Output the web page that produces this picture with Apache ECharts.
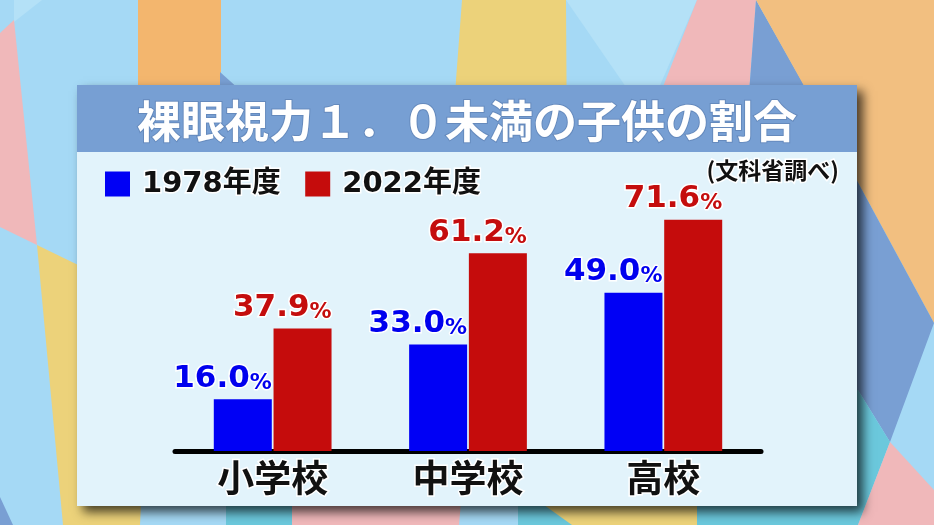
<!DOCTYPE html>
<html><head><meta charset="utf-8">
<script src="https://cdn.jsdelivr.net/npm/echarts@6/dist/echarts.min.js"></script>
<style>html,body{margin:0;padding:0;background:#a5d9f5}#c{width:934px;height:525px}</style>
</head><body><div id="c"></div>
<script>
const categories = ['小学校', '中学校', '高校'];
const seriesNames = ['1978年度', '2022年度'];
const values1978 = [16.0, 33.0, 49.0];
const values2022 = [37.9, 61.2, 71.6];
const titleText = '裸眼視力１．０未満の子供の割合';
const sourceText = '(文科省調べ)';

const BLUE = '#0000f5', RED = '#c50c0c';
const LB = '#a5d9f5', OR = '#f3b66e', OR2 = '#f2bf80', YE = '#ecd27a', PK = '#f0b8ba', BL = '#799fd3', CY = '#6bc8dc', PB = '#b4e1f7';

function poly(pts, color) { return { type: 'polygon', shape: { points: pts }, style: { fill: color }, silent: true }; }

const bg = [
  { type: 'rect', shape: { x: 0, y: 0, width: 934, height: 525 }, style: { fill: LB }, silent: true },
  poly([[14,0],[42,0],[14,22]], PB),
  poly([[0,33],[14,20],[37,245],[0,227]], PK),
  poly([[37,245],[150,300],[140,525],[63,525]], YE),
  poly([[0,497],[13,525],[0,525]], BL),
  poly([[138,0],[221,0],[221,160],[138,160]], OR),
  poly([[220,72],[240,90],[220,90]], BL),
  poly([[462,0],[566,0],[567,160],[450,160]], YE),
  poly([[566,0],[697,0],[658,90],[628,90]], PB),
  poly([[697,0],[756,0],[747,120],[650,120]], PK),
  poly([[756,0],[804,85],[820,120],[747,120]], BL),
  poly([[756,0],[934,0],[934,323],[855,177]], OR2),
  poly([[840,150],[855,177],[934,323],[890,442],[858,390],[840,390]], BL),
  poly([[840,390],[858,390],[890,442],[858,525],[840,525]], CY),
  poly([[890,442],[934,490],[934,525],[858,525]], PK),
  poly([[226,490],[292,490],[292,525],[226,525]], CY),
  poly([[292,490],[462,490],[459,525],[292,525]], PK),
  poly([[518,490],[697,490],[697,525],[518,525]], CY),
  poly([[530,495],[697,495],[697,525],[572,525]], YE),
  poly([[697,490],[858,490],[858,525],[697,525]], CY),
  { type: 'rect', shape: { x: 77, y: 85, width: 780, height: 421 }, style: { fill: '#e2f3fb', shadowBlur: 10, shadowOffsetX: 6, shadowOffsetY: 6, shadowColor: 'rgba(0,0,0,0.7)' }, silent: true },
  { type: 'rect', shape: { x: 77, y: 85, width: 780, height: 67 }, style: { fill: '#779fd3' }, silent: true }
];

function valueLabel(color) {
  return {
    show: true,
    position: ['100%', -5],
    align: 'right',
    verticalAlign: 'bottom',
    formatter: p => '{n|' + p.value.toFixed(1) + '}{p|%}',
    textBorderColor: '#fff',
    textBorderWidth: 3,
    rich: {
      n: { fontFamily: 'DejaVu Sans', fontWeight: 'bold', fontSize: 31, color: color, lineHeight: 30, verticalAlign: 'bottom', textBorderColor: '#fff', textBorderWidth: 3 },
      p: { fontFamily: 'DejaVu Sans', fontWeight: 'bold', fontSize: 22, color: color, lineHeight: 25, verticalAlign: 'bottom', textBorderColor: '#fff', textBorderWidth: 3 }
    }
  };
}

const chart = echarts.init(document.getElementById('c'));
chart.setOption({
  animation: false,
  graphic: { elements: bg },
  title: [
    { text: titleText, left: 'center', top: 97, padding: 0,
      textStyle: { color: '#fff', fontSize: 44, fontWeight: 'bold', fontFamily: 'Noto Sans CJK JP', lineHeight: 48,
        textBorderColor: 'rgba(70,100,150,0.35)', textBorderWidth: 2 } },
    { text: sourceText, right: 92, top: 156, padding: 0,
      textStyle: { color: '#111', fontSize: 23, fontWeight: 'bold', fontFamily: 'Noto Sans CJK JP', lineHeight: 28,
        textBorderColor: '#fff', textBorderWidth: 3 } }
  ],
  legend: {
    left: 105, top: 168, padding: 0,
    icon: 'rect', itemWidth: 25, itemHeight: 25, itemGap: 23,
    data: seriesNames,
    textStyle: { color: '#111', fontSize: 29, fontWeight: 'bold', fontFamily: 'DejaVu Sans, Noto Sans CJK JP',
      textBorderColor: '#fff', textBorderWidth: 3, padding: [0, 0, 0, 7] }
  },
  grid: { left: 175, right: 173, top: 128, bottom: 74 },
  xAxis: {
    type: 'category', data: categories,
    axisLine: { lineStyle: { color: '#000', width: 5 } },
    axisTick: { show: false },
    axisLabel: { color: '#111', fontSize: 37, fontWeight: 'bold', fontFamily: 'Noto Sans CJK JP', margin: 6, lineHeight: 42,
      textBorderColor: '#fff', textBorderWidth: 3 }
  },
  yAxis: { type: 'value', min: 0, max: 100, show: false, splitLine: { show: false } },
  series: [
    { name: seriesNames[0], type: 'bar', data: values1978, barWidth: 58, barGap: '3%',
      itemStyle: { color: BLUE }, label: valueLabel('#0000ee') },
    { name: seriesNames[1], type: 'bar', data: values2022, barWidth: 58, barGap: '3%',
      itemStyle: { color: RED }, label: valueLabel('#c40d0d') }
  ]
});
</script></body></html>
